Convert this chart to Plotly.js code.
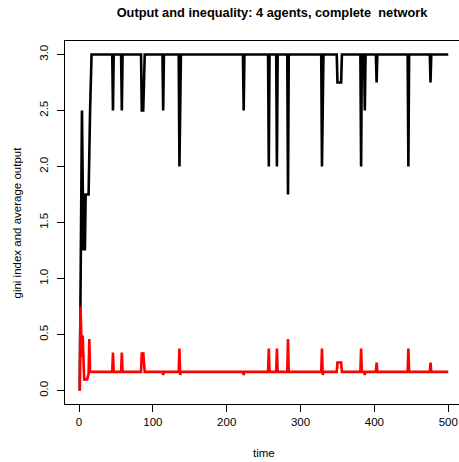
<!DOCTYPE html>
<html>
<head>
<meta charset="utf-8">
<script src="https://cdn.plot.ly/plotly-3.0.1.min.js"></script>
<style>
  html, body { margin: 0; padding: 0; overflow: hidden; background: #ffffff; }
  #chart { width: 467px; height: 462px; }
</style>
</head>
<body>
<div id="chart"></div>
<script>
// Average output (black): time points where the series changes, with values
const outputTime = [
  1, 4, 6, 7, 8, 9, 13, 14, 15, 17,
  45, 46, 47,
  57, 58, 59,
  84, 85, 87, 88, 89,
  113, 114, 115,
  135, 136, 137, 138,
  222, 223, 224,
  256, 257, 258,
  267, 268, 269,
  282, 283, 284,
  328, 329, 330, 331,
  349, 350, 355, 356,
  381, 382, 383, 386, 387, 388,
  402, 403, 404,
  445, 446, 447,
  475, 476, 477,
  500
];
const outputValue = [
  0, 2.5, 1.25, 1.75, 1.25, 1.75, 1.75, 2.25, 2.5, 3,
  3, 2.5, 3,
  3, 2.5, 3,
  3, 2.5, 2.5, 2.75, 3,
  3, 2.5, 3,
  3, 2.0, 2.5, 3,
  3, 2.5, 3,
  3, 2.0, 3,
  3, 2.0, 3,
  3, 1.75, 3,
  3, 2.0, 2.5, 3,
  3, 2.75, 2.75, 3,
  3, 2.0, 3, 3, 2.5, 3,
  3, 2.75, 3,
  3, 2.0, 3,
  3, 2.75, 3,
  3
];

// Gini index (red)
const giniTime = [
  1, 2, 4, 5, 6, 7, 11, 12, 13, 14, 15,
  45, 46, 47,
  57, 58, 59,
  84, 85, 86, 87, 88, 89,
  113, 114, 115,
  135, 136, 137, 138,
  222, 223, 224,
  256, 257, 258,
  267, 268, 269,
  282, 283, 284,
  328, 329, 330, 331,
  349, 350, 355, 356,
  381, 382, 383, 386, 387, 388,
  402, 403, 404,
  445, 446, 447,
  475, 476, 477,
  500
];
const giniValue = [
  0, 0.75, 0.30, 0.49, 0.30, 0.10, 0.10, 0.15, 0.15, 0.46, 0.1667,
  0.1667, 0.34, 0.1667,
  0.1667, 0.34, 0.1667,
  0.1667, 0.34, 0.32, 0.34, 0.25, 0.1667,
  0.1667, 0.14, 0.1667,
  0.1667, 0.375, 0.14, 0.1667,
  0.1667, 0.14, 0.1667,
  0.1667, 0.375, 0.1667,
  0.1667, 0.375, 0.1667,
  0.1667, 0.46, 0.1667,
  0.1667, 0.375, 0.14, 0.1667,
  0.1667, 0.25, 0.25, 0.1667,
  0.1667, 0.375, 0.1667, 0.1667, 0.14, 0.1667,
  0.1667, 0.25, 0.1667,
  0.1667, 0.375, 0.1667,
  0.1667, 0.25, 0.1667,
  0.1667
];

const xTicks = [0, 100, 200, 300, 400, 500];
const yTicks = [0, 0.5, 1, 1.5, 2, 2.5, 3];
const yTickLabels = ['0.0', '0.5', '1.0', '1.5', '2.0', '2.5', '3.0'];

const chartTitle = 'Output and inequality: 4 agents, complete\u00a0 network';
const xTitle = 'time';
const yTitle = 'gini index and average output';

const font = 'Liberation Sans, Arial, Helvetica, sans-serif';
const H = 462, W = 467;

const traces = [
  { x: outputTime, y: outputValue, type: 'scatter', mode: 'lines',
    line: { color: '#000000', width: 2.6 }, hoverinfo: 'skip', showlegend: false },
  { x: giniTime, y: giniValue, type: 'scatter', mode: 'lines',
    line: { color: '#ff0000', width: 2.6 }, hoverinfo: 'skip', showlegend: false }
];

const axisCommon = {
  showgrid: false, zeroline: false, showline: true, mirror: true,
  linecolor: '#000000', linewidth: 1,
  ticks: 'outside', ticklen: 7, tickwidth: 1, tickcolor: '#000000',
  tickfont: { family: font, size: 11.5, color: '#000000' }
};

const layout = {
  width: W, height: H,
  margin: { l: 65, r: 4, t: 41, b: 58, pad: 0 },
  paper_bgcolor: '#ffffff', plot_bgcolor: '#ffffff',
  font: { family: font, color: '#000000' },
  title: {
    text: '<b>' + chartTitle + '</b>',
    font: { family: font, size: 12.8, color: '#000000' },
    xref: 'container', x: 272 / W, xanchor: 'center',
    yref: 'container', y: 1 - 13 / H, yanchor: 'middle'
  },
  xaxis: Object.assign({}, axisCommon, {
    range: [-18.96, 519.96], tickmode: 'array', tickvals: xTicks
  }),
  yaxis: Object.assign({}, axisCommon, {
    range: [-0.12, 3.12], tickmode: 'array', tickvals: yTicks, ticktext: yTickLabels,
    tickangle: -90, ticklabelstandoff: 4
  }),
  annotations: [
    { text: xTitle, xref: 'paper', x: 0.5, yref: 'paper', y: 0, yshift: -49,
      xanchor: 'center', yanchor: 'middle', showarrow: false,
      font: { family: font, size: 11.5, color: '#000000' } },
    { text: yTitle, xref: 'paper', x: 0, xshift: -49, yref: 'paper', y: 0.5,
      xanchor: 'center', yanchor: 'middle', textangle: -90, showarrow: false,
      font: { family: font, size: 11.5, color: '#000000' } }
  ]
};

Plotly.newPlot('chart', traces, layout, { displayModeBar: false, staticPlot: true });
</script>
</body>
</html>
